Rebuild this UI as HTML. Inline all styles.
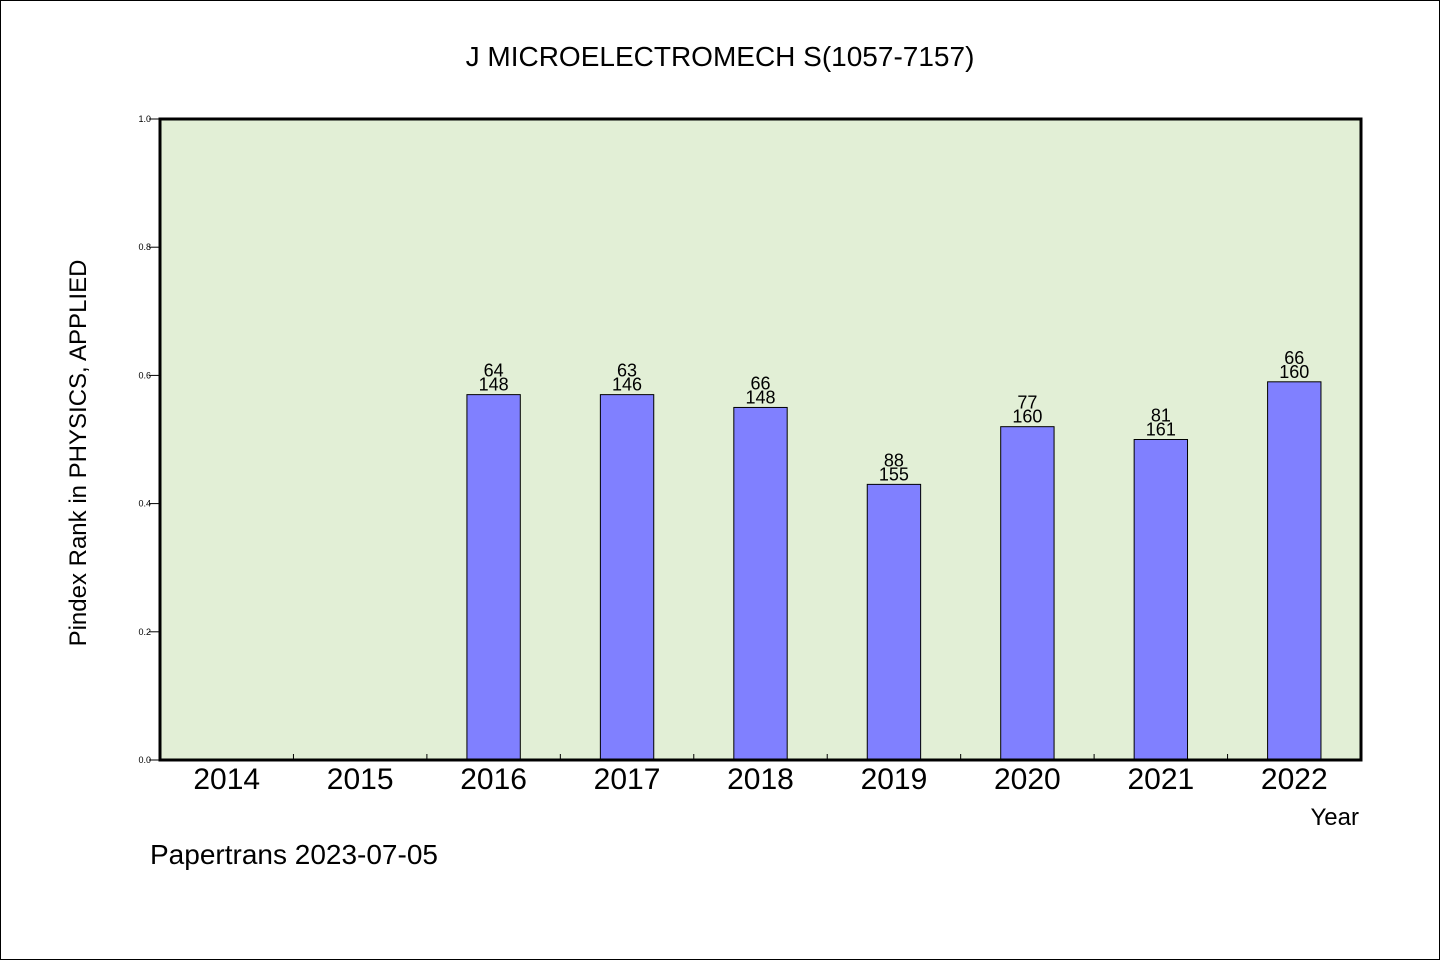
<!DOCTYPE html>
<html><head><meta charset="utf-8"><style>
html,body{margin:0;padding:0;background:#fff}
svg{display:block}
text{font-family:"WenQuanYi Zen Hei","Liberation Sans",sans-serif;fill:#000}
</style></head><body>
<svg id="chart" width="1440" height="960">
<rect x="0.5" y="0.5" width="1439" height="959" fill="#fff" stroke="#000"/>
<text x="720" y="66" font-size="28" text-anchor="middle">J MICROELECTROMECH S(1057-7157)</text>
<rect x="160" y="119" width="1201" height="641" fill="#e2efd6"/>
<g id="bars"></g>
<g id="axes"></g>
<rect x="160" y="119" width="1201" height="641" fill="none" stroke="#000" stroke-width="3"/>
<text transform="translate(86,453) rotate(-90)" font-size="24" text-anchor="middle">Pindex Rank in PHYSICS, APPLIED</text>
<text x="1359" y="825" font-size="24" text-anchor="end">Year</text>
<text x="150" y="864" font-size="28">Papertrans 2023-07-05</text>
</svg>
<script>
const categories=["2014","2015","2016","2017","2018","2019","2020","2021","2022"];
const values=[null,null,0.57,0.57,0.55,0.43,0.52,0.50,0.59];
const ranks=[null,null,64,63,66,88,77,81,66];
const totals=[null,null,148,146,148,155,160,161,160];
const yTicks=[0,0.2,0.4,0.6,0.8,1.0];
const yTickLabels=["0.0","0.2","0.4","0.6","0.8","1.0"];
const NS="http://www.w3.org/2000/svg";
const L=160,R=1361,T=119,B=760;
const band=(R-L)/categories.length;
const xc=i=>L+band*(i+0.5);
const y=v=>B-(B-T)*v;
function mk(tag,attrs,parent){const e=document.createElementNS(NS,tag);for(const k in attrs)e.setAttribute(k,attrs[k]);parent.appendChild(e);return e;}
const bars=document.getElementById('bars'),axes=document.getElementById('axes');
values.forEach((v,i)=>{
  if(v==null)return;
  const w=band*0.4;
  const r=mk('rect',{x:xc(i)-w/2,y:y(v),width:w,height:B-y(v),fill:'#8080ff',stroke:'#000','stroke-width':1},bars);
  
  
  const t1=mk('text',{x:xc(i),y:y(v)-18,'font-size':18,'text-anchor':'middle'},bars);
  t1.textContent=ranks[i];
  
  
  const t2=mk('text',{x:xc(i),y:y(v)-4,'font-size':18,'text-anchor':'middle'},bars);
  t2.textContent=totals[i];
  
  
});
yTicks.forEach((v,i)=>{
  const l=mk('line',{x1:149,x2:160,y1:y(v),y2:y(v),stroke:'#000','stroke-width':1},axes);
  
  
  const t=mk('text',{x:151,y:y(v)+3,'font-size':9,'text-anchor':'end'},axes);
  t.textContent=yTickLabels[i];
  
  
});
categories.forEach((c,i)=>{
  if(i>0){const l=mk('line',{x1:L+band*i,x2:L+band*i,y1:B,y2:B-6,stroke:'#000','stroke-width':1},axes);
  
  }
  const t=mk('text',{x:xc(i),y:789,'font-size':30,'text-anchor':'middle'},axes);
  t.textContent=c;
  
  
});
</script>
</body></html>
